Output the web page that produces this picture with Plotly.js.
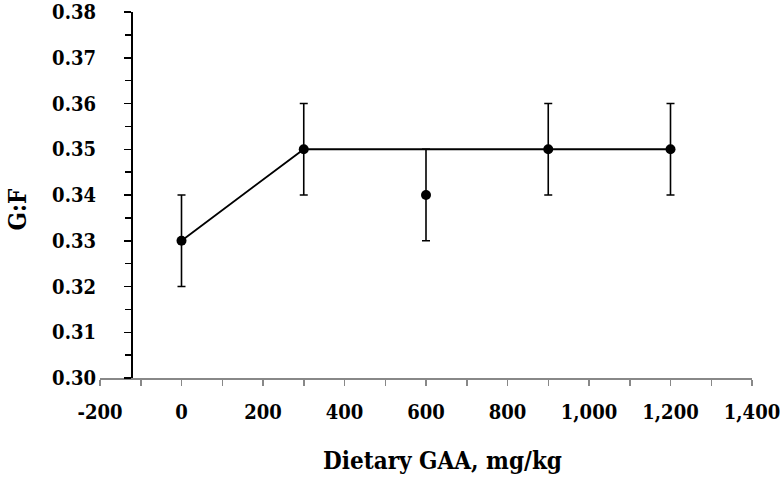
<!DOCTYPE html>
<html>
<head>
<meta charset="utf-8">
<script src="https://cdn.plot.ly/plotly-3.0.1.min.js"></script>
<style>html,body{margin:0;padding:0;background:#fff;}#chart{width:780px;height:477px;}</style>
</head>
<body>
<div id="chart"></div>
<script>
// Observed means
const doseX = [0, 300, 600, 900, 1200];
const gfY = [0.33, 0.35, 0.34, 0.35, 0.35];
const gfErr = [0.01, 0.01, 0.01, 0.01, 0.01];
// Broken-line fit
const fitX = [0, 300, 1200];
const fitY = [0.33, 0.35, 0.35];
// Axis labels
const xTickVals = [-200, 0, 200, 400, 600, 800, 1000, 1200, 1400];
const xTickText = ['-200', '0', '200', '400', '600', '800', '1,000', '1,200', '1,400'];
const yTickVals = [0.30, 0.31, 0.32, 0.33, 0.34, 0.35, 0.36, 0.37, 0.38];
const yTickText = ['0.30', '0.31', '0.32', '0.33', '0.34', '0.35', '0.36', '0.37', '0.38'];
const xTitle = 'Dietary GAA, mg/kg';
const yTitle = 'G:F';

const font = "'DejaVu Serif Condensed', 'DejaVu Serif', serif";

const traces = [
  {x: fitX, y: fitY, mode: 'lines', type: 'scatter',
   line: {color: '#000', width: 1.8}, hoverinfo: 'skip', showlegend: false},
  {x: doseX, y: gfY, mode: 'markers', type: 'scatter',
   marker: {color: '#000', size: 10},
   error_y: {type: 'data', array: gfErr, visible: true, color: '#000', thickness: 1.6, width: 4},
   showlegend: false}
];

const layout = {
  width: 780, height: 477,
  margin: {l: 100, r: 28, t: 12, b: 99},
  paper_bgcolor: '#fff', plot_bgcolor: '#fff',
  font: {family: font, color: '#000'},
  showlegend: false,
  xaxis: {
    range: [-200, 1400], tickmode: 'array', tickvals: xTickVals, ticktext: xTickText,
    showgrid: false, zeroline: false, showline: true, linecolor: '#888', linewidth: 1.5,
    ticks: 'outside', ticklen: 6, tickwidth: 1.5, tickcolor: '#888',
    minor: {dtick: 100, ticks: 'outside', ticklen: 6, tickwidth: 1.5, tickcolor: '#888'},
    tickfont: {family: font, size: 20, color: '#000', weight: 'bold'},
    ticklabelstandoff: 9, ticklabeloverflow: 'allow',
    automargin: false
  },
  yaxis: {
    range: [0.30, 0.38], tickmode: 'array', tickvals: yTickVals, ticktext: yTickText,
    anchor: 'free', position: 0.049,
    showgrid: false, zeroline: false, showline: true, linecolor: '#000', linewidth: 2,
    ticks: 'outside', ticklen: 7, tickwidth: 1.5, tickcolor: '#000',
    minor: {dtick: 0.005, tick0: 0.30, ticks: 'outside', ticklen: 6, tickwidth: 1.5, tickcolor: '#000'},
    tickfont: {family: font, size: 20, color: '#000', weight: 'bold'},
    ticklabelstandoff: 24, ticklabeloverflow: 'allow',
    automargin: false
  },
  annotations: [
    {text: '<b>' + xTitle + '</b>', xref: 'paper', yref: 'paper', x: 0.525, y: -0.225,
     xanchor: 'center', yanchor: 'middle', showarrow: false,
     font: {family: font, size: 24, color: '#000'}},
    {text: '<b>' + yTitle + '</b>', xref: 'paper', yref: 'paper', x: -0.126, y: 0.46,
     xanchor: 'center', yanchor: 'middle', textangle: -90, showarrow: false,
     font: {family: font, size: 24, color: '#000'}}
  ]
};

Plotly.newPlot('chart', traces, layout, {displayModeBar: false, staticPlot: true});
</script>
</body>
</html>
